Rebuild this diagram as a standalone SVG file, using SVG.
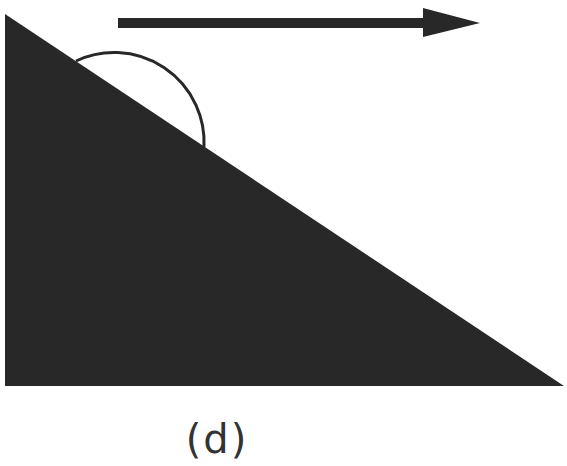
<svg xmlns="http://www.w3.org/2000/svg" width="567" height="466" viewBox="0 0 567 466">
<style>
.ink{fill:#282828}
.arc{fill:none;stroke:#282828;stroke-width:3}
.lbl{font-family:"DejaVu Sans","Liberation Sans",sans-serif;font-size:40px;fill:#333}
</style>
<rect width="567" height="466" fill="#fff"/>
<g id="triangle">
<polygon class="ink" points="5,14 5,386 564,386"/>
<path class="arc" d="M76,61 A90,90 0 0 1 204,147"/>
</g>
<g id="connectors">
<rect class="ink" x="118" y="18" width="308" height="10"/>
<polygon class="ink" points="423,8 480,23 423,37"/>
</g>
<g id="label">
<text class="lbl" x="217" y="453" text-anchor="middle" letter-spacing="2">(d)</text>
</g>
</svg>
